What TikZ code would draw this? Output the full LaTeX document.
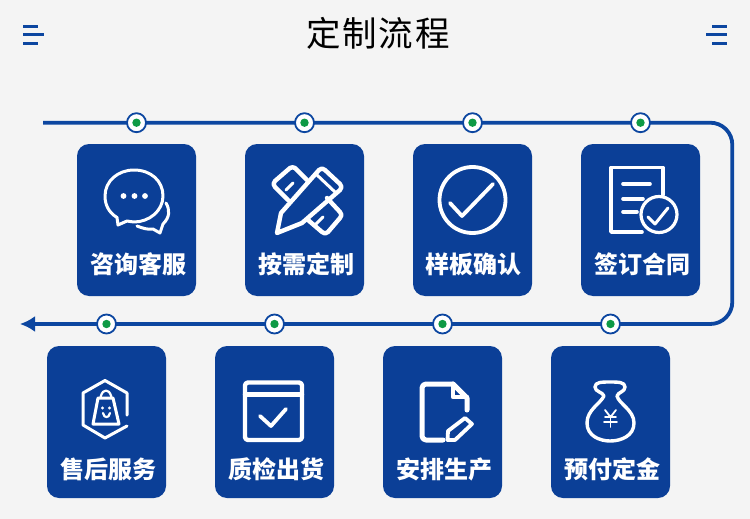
\documentclass[tikz,border=0pt]{standalone}
\usepackage{fontspec}
\setmainfont{Noto Sans CJK SC}
\setsansfont{Noto Sans CJK SC}
\newfontfamily\titlefont[LetterSpace=5]{Noto Sans CJK SC}
\usepackage{tikz}
\usetikzlibrary{arrows.meta, positioning}
\usepackage{xcolor}
\definecolor{cardBlue}{HTML}{0B3F97}
\definecolor{lineBlue}{HTML}{0C46A0}
\definecolor{pageGray}{HTML}{F4F4F4}
\definecolor{dotGreen}{HTML}{0E9A45}
\tikzset{
    font=\sffamily,
    >=Stealth,
    % Shapes
    card/.style={rectangle, fill=cardBlue, rounded corners=12pt, inner sep=0pt, outer sep=0pt,
                 minimum width=119pt, minimum height=152pt},
    dot/.style={circle, draw=lineBlue, line width=1.8pt, fill=white, inner sep=0pt, minimum size=19pt,
                path picture={\fill[dotGreen] (path picture bounding box.center) circle (4.2pt);}},
    % Flow & Labels
    flow/.style={line width=3.8pt, lineBlue, rounded corners=22pt},
    bars/.style={line width=3.5pt, lineBlue},
    lbl/.style={font=\fontsize{24}{24}\selectfont\bfseries, text=white, inner sep=0pt},
    ttl/.style={font=\fontsize{34.5}{35}\selectfont\titlefont, text=black, inner sep=0pt},
    % Icons
    icon/.style={draw=white, line width=3pt, line join=round, line cap=round},
    iconThick/.style={icon, line width=4.4pt},
    iconThin/.style={icon, line width=2.2pt}
}
\begin{document}
\begin{tikzpicture}[x=1pt, y=-1pt, node distance=49pt]

\fill[pageGray] (0,0) rectangle (750,519);
\useasboundingbox (0,0) rectangle (750,519);

\node[ttl] (title) at (378,33) {定制流程};

% side marks
\draw[bars] (23,26.5) -- (37.5,26.5);
\draw[bars] (23,34.7) -- (44,34.7);
\draw[bars] (23,43.3) -- (37.5,43.3);
\draw[bars] (712,26.5) -- (727,26.5);
\draw[bars] (706,34.7) -- (727,34.7);
\draw[bars] (712,43.3) -- (727,43.3);

% cards
\node[card] (consult) at (136.5,220) {};
\node[card, right=of consult] (design) {};
\node[card, right=of design] (sample) {};
\node[card, right=of sample] (contract) {};
\node[card] (service) at (106.5,422) {};
\node[card, right=of service] (check) {};
\node[card, right=of check] (produce) {};
\node[card, right=of produce] (deposit) {};

\node[lbl] (lconsult) at ([xshift=2pt,yshift=32pt]consult.south) {咨询客服};
\node[lbl] (ldesign) at ([xshift=2pt,yshift=32pt]design.south) {按需定制};
\node[lbl] (lsample) at ([xshift=1pt,yshift=32pt]sample.south) {样板确认};
\node[lbl] (lcontract) at ([xshift=2pt,yshift=32pt]contract.south) {签订合同};
\node[lbl] (lservice) at ([xshift=2pt,yshift=29pt]service.south) {售后服务};
\node[lbl] (lcheck) at ([xshift=2pt,yshift=29pt]check.south) {质检出货};
\node[lbl] (lproduce) at ([xshift=2pt,yshift=29pt]produce.south) {安排生产};
\node[lbl] (ldeposit) at ([xshift=2pt,yshift=29pt]deposit.south) {预付定金};

% flow line
\coordinate (lineStart) at (43,122.7);
\coordinate (cornerTop) at (732.3,122.7);
\coordinate (cornerBot) at (732.3,324);
\coordinate (lineEnd) at (20,324);
\draw[flow, -{Latex[length=15pt,width=16pt]}] (lineStart) -- (cornerTop) -- (cornerBot) -- (lineEnd);

\node[dot] (d1) at (consult.north |- lineStart) {};
\node[dot] (d2) at (design.north |- lineStart) {};
\node[dot] (d3) at (sample.north |- lineStart) {};
\node[dot] (d4) at (contract.north |- lineStart) {};
\node[dot] (d5) at (deposit.north |- lineEnd) {};
\node[dot] (d6) at (produce.north |- lineEnd) {};
\node[dot] (d7) at (check.north |- lineEnd) {};
\node[dot] (d8) at (service.north |- lineEnd) {};

% speech bubbles
\draw[icon] (117,217.5) .. controls (108,212) and (105,204) .. (105,196) .. controls (105,181) and (118,170) .. (134,170)
    .. controls (151,170) and (163,181) .. (163,196) .. controls (163,211) and (149,222) .. (134,222)
    .. controls (131,222) and (129,221) .. (127,221) -- (118,225) -- cycle;
\draw[icon] (166,203) .. controls (170,210) and (170,217) .. (163,224) -- (160,233) -- (153,229)
    .. controls (148,230) and (142,228) .. (137,226);
\fill[white] (123.5,196) circle (2.9pt) (134.5,196) circle (2.9pt) (145,196) circle (2.9pt);

% pencil and ruler
\draw[iconThick] (277,233) -- (281,213) -- (319,170) .. controls (321,168) and (323,168) .. (325,170) -- (340,184)
    .. controls (342,186) and (342,188) .. (340,190) -- (302,223) -- cycle;
\draw[icon] (317,175) -- (335,192);
\draw[iconThick] (288,200) -- (275,187) .. controls (273,185) and (273,183) .. (275,181) -- (290,168)
    .. controls (292,167) and (293,167) .. (295,168) -- (307,180);
\draw[icon] (293,183) -- (286,190);
\draw[iconThick] (327,198) -- (340,212) .. controls (342,214) and (342,216) .. (340,218) -- (328,232)
    .. controls (326,234) and (324,234) .. (322,232) -- (308,220);
\draw[icon] (323,217) -- (316,224);

% round check
\draw[iconThick, line width=3.8pt] (472.5,200) circle (33pt);
\draw[iconThick, line width=3.8pt] (450,203) -- (462,216) -- (493,184);

% document with check
\draw[iconThick, line width=3.6pt] (642,232) -- (611,232) -- (611,167.5) -- (663,167.5) -- (663,195);
\draw[iconThick, line width=3.6pt] (623,184) -- (650,184);
\draw[iconThick, line width=3.6pt] (623,199) -- (643,199);
\draw[iconThick, line width=3.6pt] (623,212) -- (637,212);
\draw[icon, line width=3.2pt] (659,214.5) circle (18pt);
\draw[icon] (648,217) -- (655,224) -- (668,208);

% hexagon and bag
\draw[icon] (127,415) -- (127,393) -- (105,380.5) -- (83,393) -- (83,425) -- (105,438) -- (127,426);
\draw[icon] (98,398) -- (113,398) -- (119,424) -- (93,424) -- cycle;
\draw[iconThin] (100.5,397) .. controls (102,392) and (104,390.5) .. (106,390.5) .. controls (108,390.5) and (110,392) .. (111.5,397);
\fill[white] (102.5,408) circle (1.6pt) (109.5,408) circle (1.6pt);
\draw[iconThin] (103,413) .. controls (104,418.5) and (109,418.5) .. (110,413);

% calendar with check
\draw[iconThick, rounded corners=3pt] (245,382.5) rectangle (302,440);
\draw[iconThick] (245,394.5) -- (302,394.5);
\draw[iconThick, line width=3.8pt] (260,416) -- (271,426) -- (286,409);

% file and pen
\draw[iconThick, line width=5pt, rounded corners=4pt] (443,440) -- (422,440) -- (422,384) -- (453,384);
\draw[iconThick, line width=5pt] (453,384) -- (467,398) -- (467,410);
\draw[iconThick, line width=4.4pt] (453,384) -- (453,397) -- (467,397);
\draw[icon, line width=3.8pt] (447.5,440) -- (448,431) -- (465,418) -- (472,424) -- (455,440) -- cycle;

% money bag
\draw[icon, line width=3.4pt] (610,382) .. controls (602,382) and (595,382) .. (595,387) .. controls (595,392) and (603,392) .. (604,396)
    .. controls (600,404) and (587,410) .. (587,423) .. controls (587,436) and (600,441) .. (610,441)
    .. controls (621,441) and (634,436) .. (634,423) .. controls (634,410) and (619,404) .. (617,396)
    .. controls (618,392) and (625,392) .. (625,387) .. controls (625,382) and (618,382) .. (610,382) -- cycle;
\draw[iconThin, line width=1.8pt] (605,410) -- (610.5,417) -- (616,410);
\draw[iconThin, line width=1.8pt] (605,417) -- (616,417);
\draw[iconThin, line width=1.8pt] (604,422) -- (617,422);
\draw[iconThin, line width=1.8pt] (610.5,417) -- (610.5,427);

\end{tikzpicture}
\end{document}
